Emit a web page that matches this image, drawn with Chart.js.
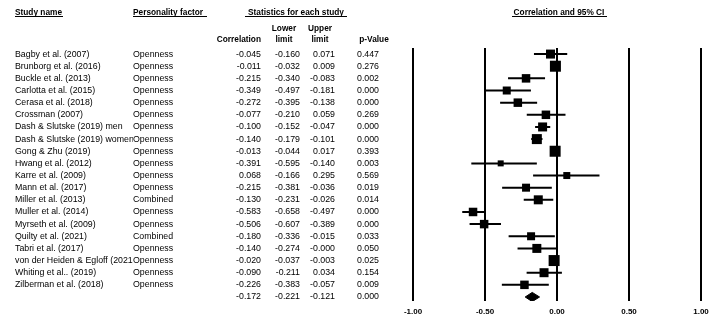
<!DOCTYPE html>
<html><head><meta charset="utf-8">
<script src="https://cdn.jsdelivr.net/npm/chart.js@4/dist/chart.umd.min.js"></script>
<style>html,body{margin:0;padding:0;background:#fff}canvas{display:block}</style>
</head><body>
<canvas id="c" width="720" height="324"></canvas>
<script>
const studies = ["Bagby et al. (2007)","Brunborg et al. (2016)","Buckle et al. (2013)","Carlotta et al. (2015)","Cerasa et al. (2018)","Crossman (2007)","Dash & Slutske (2019) men","Dash & Slutske (2019) women","Gong & Zhu (2019)","Hwang et al. (2012)","Karre et al. (2009)","Mann et al. (2017)","Miller et al. (2013)","Muller et al. (2014)","Myrseth et al. (2009)","Quilty et al. (2021)","Tabri et al. (2017)","von der Heiden & Egloff (2021)","Whiting et al.. (2019)","Zilberman et al. (2018)"];
const factors = ["Openness","Openness","Openness","Openness","Openness","Openness","Openness","Openness","Openness","Openness","Openness","Openness","Combined","Openness","Openness","Combined","Openness","Openness","Openness","Openness"];
const correlation = [-0.045,-0.011,-0.215,-0.349,-0.272,-0.077,-0.100,-0.140,-0.013,-0.391,0.068,-0.215,-0.130,-0.583,-0.506,-0.180,-0.140,-0.020,-0.090,-0.226];
const lowerLimit = [-0.160,-0.032,-0.340,-0.497,-0.395,-0.210,-0.152,-0.179,-0.044,-0.595,-0.166,-0.381,-0.231,-0.658,-0.607,-0.336,-0.274,-0.037,-0.211,-0.383];
const upperLimit = [0.071,0.009,-0.083,-0.181,-0.138,0.059,-0.047,-0.101,0.017,-0.140,0.295,-0.036,-0.026,-0.497,-0.389,-0.015,-0.000,-0.003,0.034,-0.057];
const pValue = [0.447,0.276,0.002,0.000,0.000,0.269,0.000,0.000,0.393,0.003,0.569,0.019,0.014,0.000,0.000,0.033,0.050,0.025,0.154,0.009];
const relWeight = [9,11,8.5,8,8.5,8.5,9,10,11,6,7,8,9,8.5,8.5,8,9,11,9,8.5];
const summaryStats = [-0.172,-0.221,-0.121,0.000]; // correlation, lower, upper, p
const xTicks = [-1,-0.5,0,0.5,1];

const FONT = "'Liberation Sans', Arial, sans-serif";
const DIAMOND_HALF = 0.38; // in row units
function fmt(v){ let s = v.toFixed(3); if ((v < 0 || Object.is(v,-0)) && s[0] !== '-') s = '-' + s; return s; }

const n = studies.length;
const ciData = [];
for (let i = 0; i < n; i++) { ciData.push({x: lowerLimit[i], y: i}, {x: upperLimit[i], y: i}, {x: null, y: null}); }
const pointData = correlation.map((v, i) => ({x: v, y: i}));
const diamondData = [
  {x: summaryStats[1], y: n}, {x: summaryStats[0], y: n - DIAMOND_HALF},
  {x: summaryStats[2], y: n}, {x: summaryStats[0], y: n + DIAMOND_HALF},
  {x: summaryStats[1], y: n}
];

const tablePlugin = {
  id: 'table',
  afterDraw(chart) {
    const ctx = chart.ctx, ys = chart.scales.y;
    ctx.save();
    ctx.fillStyle = '#000'; ctx.strokeStyle = '#000';
    ctx.textBaseline = 'middle';
    // headers
    ctx.font = "bold 8.3px " + FONT;
    const uline = (x1, x2, y) => { ctx.beginPath(); ctx.lineWidth = 1; ctx.moveTo(x1, y + 0.5); ctx.lineTo(x2, y + 0.5); ctx.stroke(); };
    ctx.textAlign = 'left';
    ctx.fillText("Study name", 15, 13); uline(15, 63, 16);
    ctx.fillText("Personality factor", 133, 13); uline(133, 207, 16);
    ctx.textAlign = 'center';
    ctx.fillText("Statistics for each study", 296, 13); uline(245, 347, 16);
    ctx.fillText("Correlation and 95% CI", 559, 13); uline(512, 607, 16);
    ctx.fillText("Lower", 284, 29); ctx.fillText("limit", 284, 40);
    ctx.fillText("Upper", 320, 29); ctx.fillText("limit", 320, 40);
    ctx.fillText("p-Value", 374, 40);
    ctx.textAlign = 'right';
    ctx.fillText("Correlation", 261, 40);
    // rows
    ctx.font = "8.8px " + FONT;
    for (let i = 0; i <= n; i++) {
      const py = ys.getPixelForValue(i);
      const stats = i < n ? [correlation[i], lowerLimit[i], upperLimit[i], pValue[i]] : summaryStats;
      if (i < n) {
        ctx.save(); ctx.beginPath(); ctx.rect(0, 0, 133, 324); ctx.clip();
        ctx.textAlign = 'left'; ctx.fillText(studies[i], 15, py); ctx.restore();
        ctx.textAlign = 'left'; ctx.fillText(factors[i], 133, py);
      }
      ctx.textAlign = 'right';
      ctx.fillText(fmt(stats[0]), 261, py);
      ctx.fillText(fmt(stats[1]), 300, py);
      ctx.fillText(fmt(stats[2]), 335, py);
      ctx.fillText(fmt(stats[3]), 379, py);
    }
    ctx.restore();
  }
};

new Chart(document.getElementById('c'), {
  type: 'scatter',
  data: { datasets: [
    { data: ciData, showLine: true, spanGaps: false, borderColor: '#000', borderWidth: 2, pointRadius: 0, fill: false },
    { data: pointData, pointStyle: 'rect', backgroundColor: '#000', borderColor: '#000', borderWidth: 0,
      pointRadius: c => relWeight[c.dataIndex] / Math.SQRT2 },
    { data: diamondData, showLine: true, fill: 'shape', backgroundColor: '#000', borderColor: '#000', borderWidth: 1, pointRadius: 0 }
  ]},
  options: {
    responsive: false, animation: false, devicePixelRatio: 1,
    layout: { padding: { left: 413, right: 19, top: 48, bottom: 0 } },
    plugins: { legend: { display: false }, tooltip: { enabled: false } },
    scales: {
      x: {
        type: 'linear', min: -1, max: 1,
        afterBuildTicks: s => { s.ticks = xTicks.map(v => ({ value: v })); },
        afterFit: s => { s.height = 23; },
        grid: { color: '#000', lineWidth: 2, drawTicks: false },
        border: { display: false },
        ticks: { padding: 6, color: '#000', font: { family: FONT, size: 8, weight: 'bold' }, callback: v => Number(v).toFixed(2) }
      },
      y: { type: 'linear', reverse: true, min: -0.5, max: 20.33, display: false }
    }
  },
  plugins: [tablePlugin]
});
</script>
</body></html>
